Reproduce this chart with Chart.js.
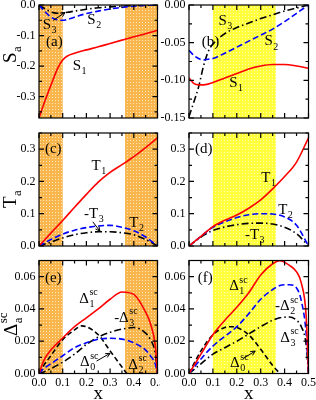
<!DOCTYPE html>
<html><head><meta charset="utf-8">
<script src="https://cdn.jsdelivr.net/npm/chart.js@4/dist/chart.umd.min.js"></script>
<style>
html,body{margin:0;padding:0;background:#fff;width:316px;height:400px;overflow:hidden;position:relative}
canvas{position:absolute;display:block}
</style></head><body>
<canvas id="pa" width="160" height="124" style="left:0;top:0"></canvas>
<canvas id="pb" width="156" height="124" style="left:160px;top:0"></canvas>
<canvas id="pc" width="160" height="128" style="left:0;top:124px"></canvas>
<canvas id="pd" width="156" height="128" style="left:160px;top:124px"></canvas>
<canvas id="pe" width="160" height="148" style="left:0;top:252px"></canvas>
<canvas id="pf" width="156" height="148" style="left:160px;top:252px"></canvas>
<script>
// ---------------- data ----------------
const xTicks = [0, 0.1, 0.2, 0.3, 0.4, 0.5];
const yTicksA = [0, -0.1, -0.2, -0.3];
const yTicksB = [0, -0.05, -0.1, -0.15];
const yTicksT = [0, 0.1, 0.2, 0.3];
const yTicksD = [0, 0.02, 0.04, 0.06];
const bandsLeft = [[0, 0.1], [0.363, 0.5]];
const bandsRight = [[0.1, 0.363]];

// panel (a)
const xA  = [0,0.02,0.04,0.06,0.08,0.1,0.12,0.15,0.2,0.25,0.3,0.35,0.4,0.45,0.5];
const aS1 = [-0.37,-0.325,-0.283,-0.243,-0.205,-0.180,-0.167,-0.158,-0.147,-0.137,-0.126,-0.115,-0.104,-0.094,-0.083];
const aS2 = [0,-0.018,-0.033,-0.044,-0.049,-0.050,-0.047,-0.040,-0.028,-0.020,-0.013,-0.008,-0.004,-0.001,0];
const aS3 = [0,-0.010,-0.019,-0.025,-0.027,-0.026,-0.024,-0.020,-0.014,-0.009,-0.006,-0.004,-0.002,-0.001,0];
// panel (b)
const xB  = [0,0.02,0.04,0.06,0.08,0.1,0.15,0.2,0.25,0.3,0.35,0.4,0.45,0.5];
const bS1 = [-0.097,-0.104,-0.106,-0.106,-0.105,-0.103,-0.097,-0.091,-0.085,-0.081,-0.079,-0.079,-0.081,-0.084];
const bS2 = [-0.060,-0.067,-0.071,-0.073,-0.072,-0.071,-0.064,-0.056,-0.048,-0.040,-0.032,-0.022,-0.011,0];
const bS3 = [-0.148,-0.129,-0.109,-0.082,-0.062,-0.052,-0.038,-0.030,-0.024,-0.018,-0.013,-0.008,-0.004,0];
// panel (c)
const xC  = [0,0.05,0.1,0.15,0.2,0.25,0.3,0.35,0.4,0.45,0.5];
const cT1 = [0,0.040,0.079,0.120,0.160,0.198,0.228,0.252,0.277,0.305,0.335];
const cT2 = [0,0.020,0.037,0.049,0.057,0.062,0.064,0.058,0.047,0.028,0];
const cT3neg = [0,0.012,0.025,0.035,0.041,0.044,0.044,0.041,0.035,0.020,0];
// panel (d)
const xD  = [0,0.05,0.1,0.15,0.2,0.25,0.3,0.35,0.4,0.45,0.5];
const dT1 = [0,0.030,0.060,0.080,0.096,0.117,0.143,0.177,0.215,0.260,0.335];
const dT2 = [0,0.030,0.058,0.075,0.088,0.097,0.100,0.099,0.090,0.064,0];
const dT3neg = [0,0.028,0.048,0.059,0.066,0.070,0.071,0.068,0.058,0.038,0];
// panel (e)
const xE  = [0,0.02,0.05,0.1,0.15,0.2,0.25,0.3,0.35,0.4,0.45,0.47,0.49,0.5];
const eD1 = [0,0.008,0.0145,0.022,0.029,0.0345,0.040,0.046,0.0505,0.049,0.038,0.031,0.018,0];
const eD2 = [0,0.003,0.006,0.011,0.016,0.019,0.0213,0.0218,0.0213,0.019,0.0145,0.011,0.006,0];
const eD3neg = [0,0.001,0.003,0.007,0.012,0.018,0.0225,0.0255,0.0275,0.0285,0.025,0.021,0.013,0];
const xE0 = [0,0.02,0.05,0.1,0.15,0.18,0.2,0.25,0.3,0.35,0.37];
const eD0 = [0,0.005,0.011,0.021,0.027,0.0295,0.029,0.024,0.014,0.004,0];
// panel (f)
const xF  = [0,0.05,0.1,0.15,0.2,0.25,0.3,0.35,0.38,0.42,0.45,0.47,0.49,0.5];
const fD1 = [0,0.012,0.024,0.033,0.041,0.050,0.061,0.068,0.0698,0.067,0.063,0.056,0.036,0];
const fD2neg = [0,0.009,0.017,0.023,0.029,0.037,0.046,0.052,0.0545,0.055,0.053,0.045,0.025,0];
const fD3 = [0,0.006,0.012,0.016,0.020,0.0245,0.029,0.033,0.0345,0.035,0.033,0.029,0.018,0];
const xF0 = [0,0.05,0.1,0.15,0.18,0.2,0.25,0.3,0.35,0.38];
const fD0 = [0,0.014,0.024,0.0285,0.029,0.0285,0.024,0.015,0.005,0];

// ---------------- helpers ----------------
const FONT = '"Liberation Serif", "DejaVu Serif", serif';
function makePattern(base, dot) {
  const c = document.createElement('canvas'); c.width = 3; c.height = 3;
  const g = c.getContext('2d');
  g.fillStyle = base; g.fillRect(0, 0, 3, 3);
  g.fillStyle = dot; g.fillRect(1, 1, 1, 1);
  return g.createPattern(c, 'repeat');
}
const orangePat = makePattern('#F8B64C', '#FDE6BC');
const yellowPat = makePattern('#FFFF3C', '#FFFFB8');

function drawLabel(ctx, px, py, main, sub, sup, size) {
  ctx.fillStyle = '#000'; ctx.textAlign = 'left'; ctx.textBaseline = 'middle';
  ctx.font = size + 'px ' + FONT;
  ctx.fillText(main, px, py);
  const w = ctx.measureText(main).width;
  const small = Math.round(size * 0.68);
  ctx.font = small + 'px ' + FONT;
  if (sub) ctx.fillText(sub, px + w + 0.5, py + size * 0.36);
  if (sup) ctx.fillText(sup, px + w + 0.5, py - size * 0.42);
}
function drawArrow(ctx, x0, y0, x1, y1) {
  ctx.strokeStyle = '#000'; ctx.lineWidth = 1; ctx.setLineDash([]);
  ctx.beginPath(); ctx.moveTo(x0, y0); ctx.lineTo(x1, y1); ctx.stroke();
  const ang = Math.atan2(y1 - y0, x1 - x0), L = 5, s = 0.45;
  ctx.beginPath();
  ctx.moveTo(x1 - L * Math.cos(ang - s), y1 - L * Math.sin(ang - s));
  ctx.lineTo(x1, y1);
  ctx.lineTo(x1 - L * Math.cos(ang + s), y1 - L * Math.sin(ang + s));
  ctx.stroke();
}

const bandsPlugin = {
  id: 'bands',
  beforeDatasetsDraw(chart, args, o) {
    const { ctx, chartArea: a, scales: { x } } = chart;
    ctx.save();
    ctx.fillStyle = o.pattern;
    (o.bands || []).forEach(([b0, b1]) => {
      const p0 = x.getPixelForValue(b0), p1 = x.getPixelForValue(b1);
      ctx.fillRect(p0, a.top, p1 - p0, a.bottom - a.top);
    });
    ctx.restore();
  }
};

const framePlugin = {
  id: 'frame',
  afterDatasetsDraw(chart, args, o) {
    const { ctx, chartArea: a, scales: { x, y } } = chart;
    ctx.save();
    ctx.strokeStyle = '#000'; ctx.lineWidth = 1.2; ctx.setLineDash([]);
    ctx.strokeRect(a.left, a.top, a.right - a.left, a.bottom - a.top);
    const isMajor = (v, arr) => arr.some(m => Math.abs(m - v) < 1e-9);
    ctx.beginPath();
    const xMaj = x.ticks.map(t => t.value);
    for (let k = 0; k * o.xMinor <= x.max + 1e-9; k++) {
      const v = x.min + k * o.xMinor; if (v > x.max + 1e-9) break;
      const len = isMajor(v, xMaj) ? 5 : 3, px = x.getPixelForValue(v);
      ctx.moveTo(px, a.bottom); ctx.lineTo(px, a.bottom - len);
      ctx.moveTo(px, a.top); ctx.lineTo(px, a.top + len);
    }
    const yMaj = y.ticks.map(t => t.value);
    const start = Math.ceil(y.min / o.yMinor - 1e-9);
    for (let k = start; k * o.yMinor <= y.max + 1e-9; k++) {
      const v = k * o.yMinor;
      const len = isMajor(v, yMaj) ? 5 : 3, py = y.getPixelForValue(v);
      ctx.moveTo(a.left, py); ctx.lineTo(a.left + len, py);
      ctx.moveTo(a.right, py); ctx.lineTo(a.right - len, py);
    }
    ctx.stroke();
    ctx.restore();
  }
};

const notesPlugin = {
  id: 'notes',
  afterDraw(chart, args, o) {
    const { ctx, chartArea: a, scales: { x, y } } = chart;
    ctx.save();
    (o.labels || []).forEach(l => drawLabel(ctx, x.getPixelForValue(l.x), y.getPixelForValue(l.y), l.t, l.sub, l.sup, l.size || 15));
    (o.arrows || []).forEach(r => drawArrow(ctx, x.getPixelForValue(r[0]), y.getPixelForValue(r[1]), x.getPixelForValue(r[2]), y.getPixelForValue(r[3])));
    if (o.ytitle) {
      ctx.save();
      ctx.translate(o.ytitle.cx, o.ytitle.by);
      ctx.rotate(-Math.PI / 2);
      drawLabel(ctx, 0, 0, o.ytitle.t, o.ytitle.sub, o.ytitle.sup, 19);
      ctx.restore();
    }
    if (o.xtitle) {
      ctx.fillStyle = '#000'; ctx.textAlign = 'center'; ctx.textBaseline = 'middle';
      ctx.font = '19px ' + FONT;
      ctx.fillText(o.xtitle, (a.left + a.right) / 2, a.bottom + 21);
    }
    ctx.restore();
  }
};

const RED = '#FF0000', BLUE = '#0000FF', BLACK = '#000000';
const DASH = [6, 3], DASHDOT = [7, 3, 1.5, 3], DASHED0 = [5, 3];

function series(xs, ys, color, dash) {
  return {
    data: xs.map((v, i) => ({ x: v, y: ys[i] })),
    borderColor: color, borderWidth: 1.6, borderDash: dash || [],
    pointRadius: 0, fill: false, cubicInterpolationMode: 'monotone'
  };
}

function makePanel(id, P) {
  return new Chart(document.getElementById(id), {
    type: 'line',
    data: { datasets: P.series },
    plugins: [bandsPlugin, framePlugin, notesPlugin],
    options: {
      responsive: false, animation: false, devicePixelRatio: 1,
      layout: { padding: { top: P.padTop, right: P.padRight, left: 0, bottom: 0 } },
      plugins: {
        legend: { display: false }, tooltip: { enabled: false },
        bands: { bands: P.bands, pattern: P.pattern },
        frame: { xMinor: 0.05, yMinor: P.yMinor },
        notes: { labels: P.labels, arrows: P.arrows, ytitle: P.ytitle, xtitle: P.xtitle }
      },
      scales: {
        x: {
          type: 'linear', min: 0, max: 0.5,
          afterBuildTicks: s => { s.ticks = xTicks.map(v => ({ value: v })); },
          afterFit: s => { s.height = P.xh; s.paddingLeft = 0; s.paddingRight = 0; },
          grid: { display: false, drawTicks: false }, border: { display: false },
          ticks: { display: P.showX, autoSkip: false, maxRotation: 0, minRotation: 0, padding: 2.5,
                   color: '#000', font: { family: FONT, size: 12 }, callback: v => v.toFixed(1) }
        },
        y: {
          type: 'linear', min: P.ymin, max: P.ymax,
          afterBuildTicks: s => { s.ticks = P.yTicks.map(v => ({ value: v })); },
          afterFit: s => { s.width = P.yw; s.paddingTop = 0; s.paddingBottom = 0; },
          grid: { display: false, drawTicks: false }, border: { display: false },
          ticks: { autoSkip: false, padding: 3.5, color: '#000', font: { family: FONT, size: 12 },
                   callback: v => v.toFixed(P.dec) }
        }
      }
    }
  });
}

const LEFT = { yw: 39, padRight: 2.5, bands: bandsLeft, pattern: orangePat };
const RIGHT = { yw: 29, padRight: 7.5, bands: bandsRight, pattern: yellowPat };
const ROW1 = { padTop: 5, xh: 6, showX: false };
const ROW2 = { padTop: 9, xh: 6, showX: false };
const ROW3 = { padTop: 8.5, xh: 26.5, showX: true, xtitle: 'x' };

makePanel('pa', Object.assign({}, LEFT, ROW1, {
  ymin: -0.37, ymax: 0, yTicks: yTicksA, yMinor: 0.05, dec: 1,
  series: [series(xA, aS1, RED), series(xA, aS2, BLUE, DASH), series(xA, aS3, BLACK, DASHDOT)],
  labels: [{ x: 0.142, y: -0.201, t: 'S', sub: '1' }, { x: 0.204, y: -0.0505, t: 'S', sub: '2' },
           { x: 0.0156, y: -0.0646, t: 'S', sub: '3' }, { x: 0.03, y: -0.1226, t: '(a)' }],
  arrows: [[0.06, -0.0505, 0.11, -0.0243]],
  ytitle: { t: 'S', sub: 'a', cx: 11, by: 63 }
}));
makePanel('pb', Object.assign({}, RIGHT, ROW1, {
  ymin: -0.15, ymax: 0, yTicks: yTicksB, yMinor: 0.025, dec: 2,
  series: [series(xB, bS1, RED), series(xB, bS2, BLUE, DASH), series(xB, bS3, BLACK, DASHDOT)],
  labels: [{ x: 0.123, y: -0.0218, t: 'S', sub: '3' }, { x: 0.316, y: -0.0485, t: 'S', sub: '2' },
           { x: 0.168, y: -0.104, t: 'S', sub: '1' }, { x: 0.053, y: -0.0498, t: '(b)' }],
  arrows: []
}));
makePanel('pc', Object.assign({}, LEFT, ROW2, {
  ymin: 0, ymax: 0.35, yTicks: yTicksT, yMinor: 0.05, dec: 1,
  series: [series(xC, cT1, RED), series(xC, cT2, BLUE, DASH), series(xC, cT3neg, BLACK, DASHDOT)],
  labels: [{ x: 0.222, y: 0.248, t: 'T', sub: '1' }, { x: 0.19, y: 0.098, t: '-T', sub: '3' },
           { x: 0.381, y: 0.070, t: 'T', sub: '2' }, { x: 0.025, y: 0.30, t: '(c)' }],
  arrows: [[0.227, 0.075, 0.257, 0.046]],
  ytitle: { t: 'T', sub: 'a', cx: 11, by: 84 }
}));
makePanel('pd', Object.assign({}, RIGHT, ROW2, {
  ymin: 0, ymax: 0.35, yTicks: yTicksT, yMinor: 0.05, dec: 1,
  series: [series(xD, dT1, RED), series(xD, dT2, BLUE, DASH), series(xD, dT3neg, BLACK, DASHDOT)],
  labels: [{ x: 0.3025, y: 0.211, t: 'T', sub: '1' }, { x: 0.373, y: 0.112, t: 'T', sub: '2' },
           { x: 0.234, y: 0.0335, t: '-T', sub: '3' }, { x: 0.025, y: 0.30, t: '(d)' }],
  arrows: []
}));
makePanel('pe', Object.assign({}, LEFT, ROW3, {
  ymin: 0, ymax: 0.07, yTicks: yTicksD, yMinor: 0.01, dec: 2,
  series: [series(xE, eD1, RED), series(xE, eD2, BLUE, DASH), series(xE, eD3neg, BLACK, DASHDOT),
           series(xE0, eD0, BLACK, DASHED0)],
  labels: [{ x: 0.170, y: 0.0464, t: 'Δ', sub: '1', sup: 'sc' }, { x: 0.317, y: 0.0344, t: '-Δ', sub: '3', sup: 'sc' },
           { x: 0.173, y: 0.0069, t: 'Δ', sub: '0', sup: 'sc' }, { x: 0.377, y: 0.0052, t: 'Δ', sub: '2', sup: 'sc' },
           { x: 0.025, y: 0.0594, t: '(e)' }],
  arrows: [[0.243, 0.0077, 0.30, 0.0125]],
  ytitle: { t: 'Δ', sub: 'a', sup: 'sc', cx: 12, by: 84 }
}));
makePanel('pf', Object.assign({}, RIGHT, ROW3, {
  ymin: 0, ymax: 0.07, yTicks: yTicksD, yMinor: 0.01, dec: 2,
  series: [series(xF, fD1, RED), series(xF, fD2neg, BLUE, DASH), series(xF, fD3, BLACK, DASHDOT),
           series(xF0, fD0, BLACK, DASHED0)],
  labels: [{ x: 0.168, y: 0.054, t: 'Δ', sub: '1', sup: 'sc' }, { x: 0.360, y: 0.0416, t: '-Δ', sub: '2', sup: 'sc' },
           { x: 0.382, y: 0.0219, t: 'Δ', sub: '3', sup: 'sc' }, { x: 0.172, y: 0.0063, t: 'Δ', sub: '0', sup: 'sc' },
           { x: 0.0365, y: 0.0594, t: '(f)' }],
  arrows: [[0.228, 0.0094, 0.277, 0.0139]]
}));
</script>
</body></html>
